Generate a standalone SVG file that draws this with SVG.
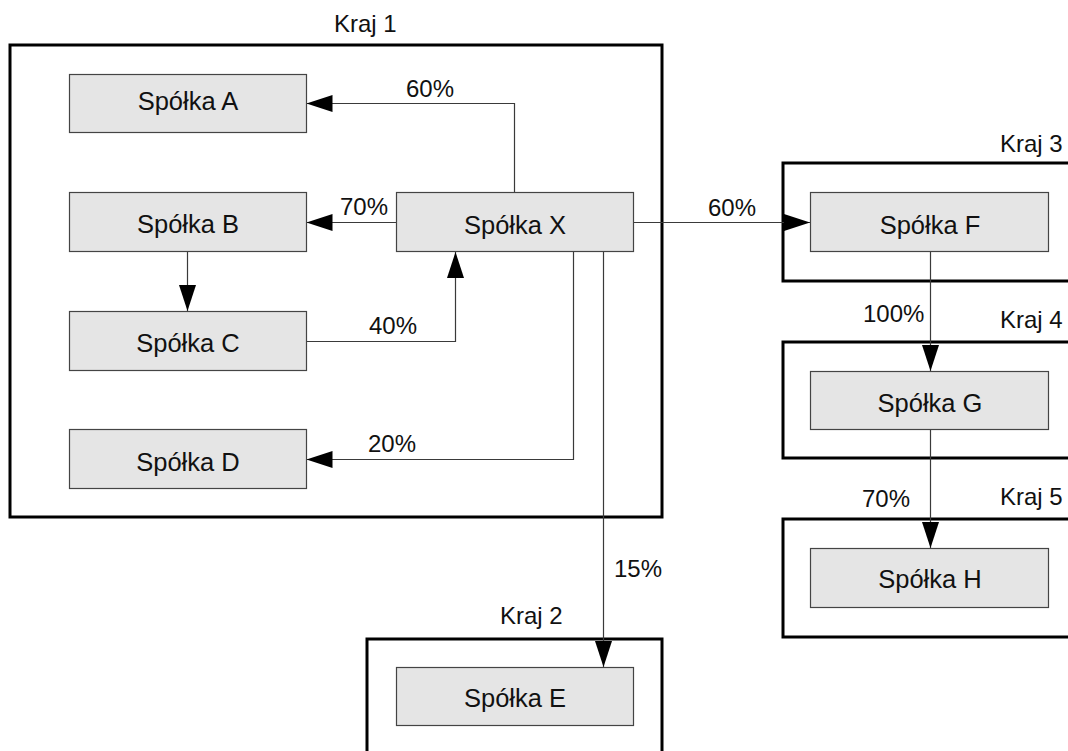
<svg xmlns="http://www.w3.org/2000/svg" width="1068" height="751" viewBox="0 0 1068 751">
<defs>
<marker id="arr" markerUnits="userSpaceOnUse" markerWidth="27" markerHeight="18" refX="26" refY="8.5" orient="auto">
<path d="M0,0 L26,8.5 L0,17 z" fill="#000"/>
</marker>
<style>
text{font-family:"Liberation Sans",Arial,sans-serif;font-size:24px;fill:#111}
.ctr{fill:none;stroke:#000;stroke-width:3}
.node rect{fill:#e5e5e5;stroke:#444;stroke-width:1.2}
.node text{text-anchor:middle;font-size:25.5px}
.conn path{fill:none;stroke:#3a3a3a;stroke-width:1.2}
.conn path.a{marker-end:url(#arr)}
</style>
</defs>
<rect x="0" y="0" width="1068" height="751" fill="#fff"/>
<g id="containers">
<g id="kraj1"><rect class="ctr" x="10" y="45" width="652" height="472"/><text x="334" y="32">Kraj 1</text></g>
<g id="kraj2"><rect class="ctr" x="367" y="639" width="295" height="200"/><text x="500" y="624">Kraj 2</text></g>
<g id="kraj3"><rect class="ctr" x="783" y="163" width="300" height="118"/><text x="1000" y="152">Kraj 3</text></g>
<g id="kraj4"><rect class="ctr" x="783" y="342" width="300" height="116"/><text x="1000" y="328">Kraj 4</text></g>
<g id="kraj5"><rect class="ctr" x="783" y="519" width="300" height="118"/><text x="1000" y="505">Kraj 5</text></g>
</g>
<g class="conn" id="connectors">
<path class="a" d="M514.5,192 V103.5 H306.5"/>
<path class="a" d="M396,222.5 H306.5"/>
<path class="a" d="M187.5,251 V311"/>
<path class="a" d="M306,341.5 H455.5 V252"/>
<path class="a" d="M573.5,252 V459.5 H306.5"/>
<path class="a" d="M603.5,252 V667"/>
<path class="a" d="M633,222.5 H810"/>
<path class="a" d="M930.5,252 V371"/>
<path class="a" d="M930.5,429 V548"/>
<text x="406" y="97">60%</text>
<text x="340" y="215">70%</text>
<text x="369" y="334">40%</text>
<text x="368" y="452">20%</text>
<text x="614" y="577">15%</text>
<text x="708" y="216">60%</text>
<text x="863" y="322">100%</text>
<text x="862" y="507">70%</text>
</g>
<g class="node" id="spolkaA"><rect x="69.5" y="74.5" width="237" height="58"/><text x="188" y="110">Spółka A</text></g>
<g class="node" id="spolkaB"><rect x="69.5" y="192.5" width="237" height="59"/><text x="188" y="233">Spółka B</text></g>
<g class="node" id="spolkaC"><rect x="69.5" y="311.5" width="237" height="59"/><text x="188" y="352">Spółka C</text></g>
<g class="node" id="spolkaD"><rect x="69.5" y="429.5" width="237" height="59"/><text x="188" y="471">Spółka D</text></g>
<g class="node" id="spolkaX"><rect x="396.5" y="192.5" width="237" height="59"/><text x="515" y="234">Spółka X</text></g>
<g class="node" id="spolkaE"><rect x="396.5" y="667.5" width="237" height="58"/><text x="515" y="707">Spółka E</text></g>
<g class="node" id="spolkaF"><rect x="810.5" y="192.5" width="238" height="59"/><text x="930" y="234">Spółka F</text></g>
<g class="node" id="spolkaG"><rect x="810.5" y="371.5" width="238" height="58"/><text x="930" y="412">Spółka G</text></g>
<g class="node" id="spolkaH"><rect x="810.5" y="548.5" width="238" height="59"/><text x="930" y="588">Spółka H</text></g>
</svg>
